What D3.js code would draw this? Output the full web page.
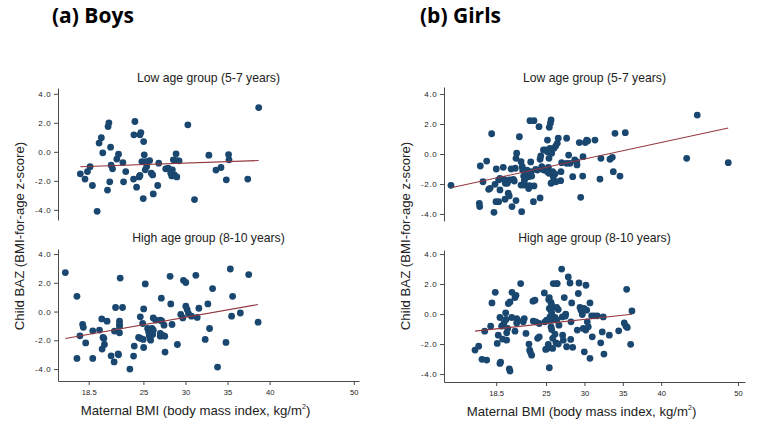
<!DOCTYPE html>
<html><head><meta charset="utf-8">
<script src="https://cdn.jsdelivr.net/npm/d3@7"></script>
<style>
body{margin:0;background:#fff;}
svg{display:block;font-family:"Liberation Sans",Arial,sans-serif;}
</style></head>
<body><svg id="c" width="763" height="430"></svg>
<script>
// ---- data (maternal BMI, child BAZ) ----
const boysLow = [[17.5,-1.52],[18.06,-1.88],[18.35,-1.36],[18.66,-1.03],[18.94,-2.32],[19.5,-4.1],[19.73,0.6],[20.0,0.97],[20.17,-0.07],[20.73,-2.64],[20.8,1.74],[20.9,2.0],[21.1,0.32],[21.0,-2.07],[21.16,-0.92],[21.33,-1.17],[21.84,-0.5],[22.04,-0.16],[22.56,-0.74],[22.64,-2.07],[22.9,-1.36],[23.83,-1.88],[23.87,1.17],[23.99,2.09],[24.19,-2.44],[24.5,-1.73],[24.59,1.17],[24.7,1.33],[24.59,-1.63],[24.82,-0.67],[25.03,0.71],[25.1,-0.21],[24.98,-3.22],[25.27,-0.67],[25.22,-1.24],[25.39,-1.01],[25.74,-0.6],[25.94,-1.47],[26.1,-1.59],[26.17,-2.9],[26.7,-2.32],[26.82,-0.78],[27.65,-1.17],[27.93,-1.12],[28.17,-1.24],[28.25,-1.47],[28.37,-1.66],[28.44,-1.24],[28.56,-0.55],[28.68,-1.59],[28.88,-0.14],[28.97,-1.73],[29.0,-0.6],[29.24,-0.62],[30.28,1.86],[31.07,-3.29],[32.78,-0.23],[33.62,-1.26],[34.22,-1.08],[34.85,-1.93],[35.12,-0.19],[35.17,-0.55],[37.4,-1.88],[38.7,3.05]];
const boysHigh = [[15.72,2.71],[17.1,1.06],[17.1,-3.26],[17.46,-1.69],[17.78,-0.9],[17.86,-1.1],[18.14,-2.18],[18.98,-1.34],[18.98,-3.26],[19.78,-1.29],[20.05,-0.51],[20.2,-1.8],[20.3,-1.87],[20.09,-2.61],[20.37,-2.29],[20.68,-0.67],[21.16,-3.08],[21.52,-3.5],[21.56,-1.36],[21.69,0.28],[22.0,-2.94],[22.04,-3.01],[22.16,-0.67],[22.16,-0.9],[22.16,-1.02],[22.16,-1.48],[22.24,2.33],[22.52,0.28],[23.39,-4.0],[23.83,-3.1],[23.91,-2.4],[24.43,-1.8],[24.63,-0.37],[24.67,-1.87],[24.91,-0.83],[24.98,-1.94],[25.03,0.18],[25.03,-2.5],[25.22,1.92],[25.5,-1.18],[25.62,-1.41],[25.7,-1.64],[25.86,-1.3],[26.02,-1.18],[26.17,-1.3],[25.86,-1.99],[25.78,-1.8],[26.1,-1.59],[26.17,-0.44],[26.46,-0.6],[27.0,-0.6],[27.0,-1.52],[27.0,-1.71],[27.17,-0.65],[27.3,-1.66],[27.45,-0.95],[27.53,-1.71],[27.57,-2.82],[27.13,0.93],[28.17,2.45],[28.25,0.53],[28.4,-0.9],[29.04,-2.29],[29.44,-0.2],[29.68,-0.44],[29.76,2.17],[30.04,2.02],[30.04,0.37],[30.2,0.14],[30.35,-0.14],[30.71,-0.32],[31.23,2.52],[31.39,-0.41],[31.59,0.23],[32.34,-1.94],[32.66,0.53],[32.86,-1.18],[33.22,1.6],[33.81,-3.86],[34.81,-2.15],[35.33,2.96],[35.48,-0.32],[35.6,1.06],[36.52,-0.1],[37.51,2.57],[38.63,-0.74]];
const girlsLow = [[12.61,-2.09],[16.3,-3.29],[16.35,-3.51],[16.43,-0.8],[16.78,-1.85],[17.26,-0.47],[17.52,-2.36],[17.7,-2.29],[17.91,1.35],[18.21,-3.89],[18.51,-1.0],[18.34,-2.02],[18.47,-3.18],[18.82,-3.18],[18.82,-1.73],[18.99,-1.62],[18.99,-2.4],[19.42,-0.89],[19.52,-1.69],[19.69,-1.95],[19.95,-1.95],[20.2,-1.73],[20.07,-2.62],[20.2,-2.8],[20.56,-3.51],[20.43,-1.0],[20.73,-1.69],[20.86,-1.8],[20.99,-0.95],[21.08,-3.11],[21.17,0.05],[21.08,-0.29],[21.52,1.15],[21.74,-0.51],[21.9,-0.85],[21.95,-1.07],[21.82,-3.85],[21.74,-2.07],[22.08,-2.07],[22.2,-2.02],[22.08,-1.47],[22.35,-1.58],[22.17,-1.76],[22.52,-1.29],[22.73,-1.51],[22.52,-1.07],[22.73,-2.31],[22.86,-2.11],[22.9,2.22],[23.42,2.22],[23.0,-0.53],[23.04,-1.18],[23.13,-1.47],[23.35,-3.18],[23.43,-2.13],[23.65,-1.02],[23.87,-1.07],[24.08,1.82],[24.22,-0.35],[24.31,-0.13],[24.22,-2.93],[24.53,-1.02],[24.44,-0.85],[24.74,-1.07],[24.66,0.27],[24.96,0.27],[25.18,0.93],[25.18,0.15],[25.38,-0.29],[25.18,-1.18],[25.3,-0.89],[25.38,-1.29],[25.42,1.78],[25.56,2.05],[25.65,2.27],[25.51,0.38],[25.73,0.05],[25.65,-1.95],[25.82,-1.89],[25.86,-1.18],[25.94,-1.51],[26.16,-1.33],[26.29,-1.85],[26.03,0.38],[26.25,0.53],[26.46,0.71],[26.59,1.05],[26.94,-1.18],[26.9,-1.78],[27.03,-0.58],[27.68,1.05],[27.94,-0.07],[27.68,-0.62],[28.12,-0.62],[28.47,-1.51],[28.73,-0.4],[28.99,-0.51],[29.03,-0.73],[29.33,0.76],[29.51,-2.89],[29.77,-1.47],[29.81,-0.18],[30.11,0.76],[30.29,0.93],[30.42,0.87],[31.37,0.93],[32.02,-1.67],[32.15,-0.29],[33.33,-0.35],[33.63,-0.22],[33.76,-1.18],[33.98,1.38],[34.63,-1.47],[35.32,1.42],[43.32,-0.29],[44.7,2.6],[48.74,-0.58],[19.65,-3.02]];
const girlsHigh = [[15.74,-2.4],[16.22,-2.14],[16.65,-3.02],[17.26,-3.07],[17.0,-1.14],[17.78,-0.81],[17.95,0.74],[18.38,1.45],[18.64,-1.96],[18.77,-1.41],[18.99,-0.23],[18.99,-3.29],[19.08,-3.2],[19.21,-0.81],[19.34,-1.67],[19.52,-0.59],[19.78,-0.36],[19.74,0.08],[19.87,-1.74],[20.08,0.7],[20.3,0.81],[19.87,-1.25],[20.0,-0.96],[20.21,-3.65],[20.3,-3.8],[20.52,-0.23],[20.56,1.45],[20.95,1.1],[21.08,1.25],[20.95,-1.14],[21.17,-0.3],[21.3,-0.41],[21.17,-0.59],[21.69,2.03],[22.03,-0.52],[22.16,-0.3],[22.38,-1.29],[22.77,-2.0],[22.86,-2.4],[22.94,-2.52],[23.12,-2.74],[23.29,0.86],[23.55,0.92],[23.33,-0.47],[23.68,-0.52],[23.9,-1.62],[24.11,-1.52],[24.11,-0.63],[24.77,1.41],[24.86,-0.52],[25.08,-0.41],[24.95,-2.36],[25.16,-2.29],[25.29,-2.02],[25.34,0.97],[25.42,1.1],[25.42,0.37],[25.51,-0.19],[25.42,-3.58],[25.64,0.77],[25.73,0.59],[25.64,-0.34],[25.73,-0.41],[25.64,-0.85],[25.73,-1.03],[25.64,0.26],[25.73,0.08],[25.86,-1.62],[25.86,-2.29],[25.94,2.03],[26.38,2.03],[26.16,-0.23],[26.25,-0.34],[26.38,-0.41],[26.16,-1.34],[26.29,-1.92],[26.38,0.44],[26.59,0.3],[26.68,-0.74],[26.59,-2.0],[27.03,3.0],[27.11,-0.19],[27.16,-1.41],[27.24,-1.74],[27.37,1.1],[27.5,-0.14],[27.55,-0.01],[27.68,-2.18],[27.89,2.47],[28.12,2.07],[28.21,-1.69],[28.25,-0.52],[28.34,0.74],[28.47,-2.22],[29.07,-1.07],[29.2,1.37],[29.29,2.07],[29.42,0.44],[29.55,0.26],[29.72,-0.03],[29.94,0.37],[29.85,-0.96],[30.16,-1.07],[29.98,-2.52],[30.2,1.92],[30.29,0.26],[30.37,-0.52],[30.5,-0.85],[30.72,-2.95],[30.72,0.74],[31.02,-1.52],[30.94,-0.12],[31.28,-0.12],[31.67,-0.12],[32.12,-1.92],[32.32,-1.19],[32.45,-0.19],[32.54,-2.67],[33.24,-1.41],[34.46,-1.12],[35.19,-0.59],[35.41,-0.81],[35.5,1.65],[35.58,-0.89],[36.02,-2.02],[36.19,0.21],[26.46,2.03]];

// fitted regression lines (endpoints)
const boysLowFit = [[17.5,-1.03],[38.7,-0.6]];
const boysHighFit = [[15.72,-1.87],[38.63,0.49]];
const girlsLowFit = [[12.61,-2.25],[48.74,1.73]];
const girlsHighFit = [[15.74,-1.14],[36.19,-0.01]];

const xTicks = [18.5, 25, 30, 35, 40, 50];
const yTicks = [-4, -2, 0, 2, 4];
const groupTitles = ["(a) Boys", "(b) Girls"];
const panelTitles = ["Low age group (5-7 years)", "High age group (8-10 years)"];
const yLabel = "Child BAZ (BMI-for-age z-score)";

// ---- layout ----
const figs = [
  {title: groupTitles[0], tx: 52, xDom: [14.85, 50.62], xR: [58, 359], labX: 24,
   panels: [
     {data: boysLow, fit: boysLowFit, yDom: [-4.7, 4.4], yR: [220, 88], title: panelTitles[0], ty: 81.5, xaxis: false},
     {data: boysHigh, fit: boysHighFit, yDom: [-4.83, 4.35], yR: [381, 249], title: panelTitles[1], ty: 241.5, xaxis: true}
   ]},
  {title: groupTitles[1], tx: 420, xDom: [11.70, 50.92], xR: [444, 745], labX: 409.5,
   panels: [
     {data: girlsLow, fit: girlsLowFit, yDom: [-4.47, 4.47], yR: [221, 87], title: panelTitles[0], ty: 81.5, xaxis: false},
     {data: girlsHigh, fit: girlsHighFit, yDom: [-4.53, 4.27], yR: [382, 250], title: panelTitles[1], ty: 241.5, xaxis: true}
   ]}
];

const svg = d3.select("#c");
const dotColor = "#1a476f", fitColor = "#93383e", axisColor = "#4a4a4a", textColor = "#222";
const fmt = d => d.toFixed(1);

figs.forEach(f => {
  const x = d3.scaleLinear().domain(f.xDom).range(f.xR);
  svg.append("text").attr("x", f.tx).attr("y", 22.5)
    .attr("font-family", "'Open Sans', 'DejaVu Sans', sans-serif")
    .attr("font-weight", 700).attr("font-size", 21).attr("fill", "#000").text(f.title);

  const cx = (f.xR[0] + f.xR[1]) / 2;
  svg.append("text")
    .attr("transform", `translate(${f.labX},236) rotate(-90)`)
    .attr("text-anchor", "middle").attr("font-size", 13.2).attr("fill", textColor)
    .text(yLabel);

  f.panels.forEach(p => {
    const y = d3.scaleLinear().domain(p.yDom).range(p.yR);
    const g = svg.append("g");
    g.append("text").attr("x", cx).attr("y", p.ty).attr("text-anchor", "middle")
      .attr("font-size", 12.2).attr("fill", textColor).text(p.title);
    const ya = g.append("g").attr("transform", `translate(${f.xR[0]},0)`)
      .call(d3.axisLeft(y).tickValues(yTicks).tickFormat(fmt).tickSize(4).tickSizeOuter(0).tickPadding(2.5));
    ya.select(".domain").attr("stroke", axisColor);
    ya.selectAll(".tick line").attr("stroke", axisColor);
    ya.selectAll(".tick text").attr("font-size", 8).attr("letter-spacing", 0.7)
      .attr("fill", textColor).attr("font-family", "'Liberation Sans', Arial, sans-serif");
    if (p.xaxis) {
      const xa = g.append("g").attr("transform", `translate(0,${p.yR[0]})`)
        .call(d3.axisBottom(x).tickValues(xTicks).tickFormat(d => String(d)).tickSize(4).tickSizeOuter(0).tickPadding(5));
      xa.select(".domain").attr("stroke", axisColor);
      xa.selectAll(".tick line").attr("stroke", axisColor);
      xa.selectAll(".tick text").attr("font-size", 7.6).attr("fill", textColor)
        .attr("font-family", "'Liberation Sans', Arial, sans-serif");
      const lab = g.append("text").attr("x", cx - 13).attr("y", p.yR[0] + 33.5).attr("text-anchor", "middle")
        .attr("font-size", 13.2).attr("fill", textColor);
      lab.append("tspan").text("Maternal BMI (body mass index, kg/m");
      lab.append("tspan").attr("font-size", 7).attr("dy", -6).text("2");
      lab.append("tspan").attr("dy", 6).text(")");
    }
    g.selectAll("circle.pt").data(p.data).join("circle").attr("class", "pt")
      .attr("cx", d => x(d[0])).attr("cy", d => y(d[1])).attr("r", 3.4)
      .attr("fill", dotColor);
    g.append("path").datum(p.fit)
      .attr("d", d3.line().x(d => x(d[0])).y(d => y(d[1])))
      .attr("fill", "none").attr("stroke", fitColor).attr("stroke-width", 1.1);
  });
});
</script>
</body></html>
